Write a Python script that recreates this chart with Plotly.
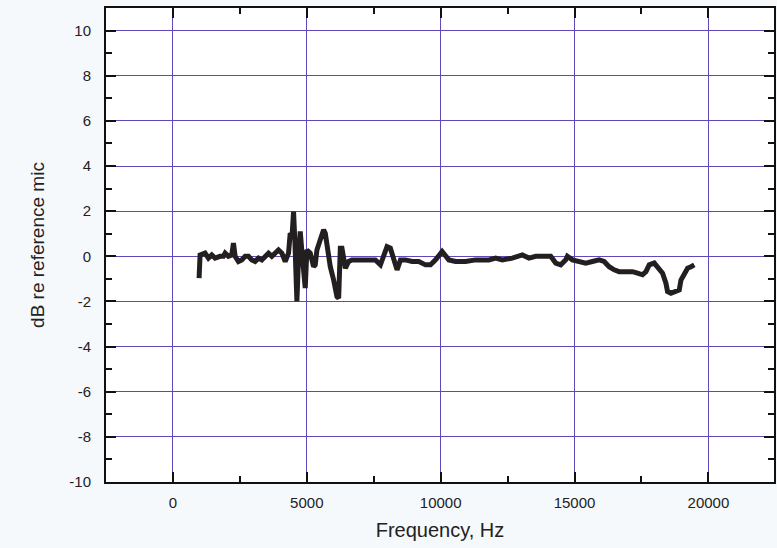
import plotly.graph_objects as go

# Frequency response relative to the reference microphone
freq_hz = [977, 1014, 1200, 1325, 1450, 1575, 1762, 1886, 1950, 2073, 2197, 2260, 2323,
           2447, 2572, 2697, 2821, 2946, 3071, 3196, 3320, 3445, 3570, 3694, 3819, 3943,
           4068, 4193, 4318, 4380, 4450, 4505, 4560, 4630, 4692, 4755, 4810, 4880, 4942,
           5003, 5128, 5190, 5253, 5315, 5378, 5503, 5565, 5628, 5690, 5752, 5877, 6002,
           6127, 6190, 6252, 6313, 6440, 6563, 6687, 6900, 7100, 7311, 7560, 7750, 7873,
           7996, 8120, 8248, 8371, 8498, 8685, 8932, 9183, 9434, 9621, 9808, 10055, 10306,
           10556, 10930, 11305, 11802, 12053, 12300, 12675, 13049, 13299, 13550, 13924,
           14111, 14298, 14485, 14672, 14733, 14920, 15170, 15420, 15668, 15918, 16105,
           16292, 16480, 16667, 16917, 17165, 17352, 17539, 17666, 17790, 17977, 18164,
           18288, 18413, 18474, 18600, 18787, 18911, 18975, 19098, 19223, 19350, 19473]
level_db = [-0.97, 0.06, 0.14, -0.08, 0.06, -0.08, 0.0, 0.0, 0.14, 0.0, 0.06, 0.58, 0.0,
            -0.23, -0.16, 0.0, 0.0, -0.16, -0.23, -0.08, -0.16, 0.0, 0.14, 0.0, 0.14, 0.28,
            0.14, -0.23, 0.14, 1.02, 0.9, 1.98, 0.5, -2.0, 0.0, 1.1, 0.3, -0.9, -1.41,
            0.28, 0.14, -0.16, -0.46, -0.38, 0.28, 0.73, 1.02, 1.17, 1.02, 0.43, -0.46, -1.05,
            -1.79, -1.86, 0.36, 0.36, -0.53, -0.23, -0.16, -0.16, -0.16, -0.16, -0.16, -0.38, 0.0,
            0.43, 0.36, -0.08, -0.6, -0.16, -0.16, -0.23, -0.23, -0.38, -0.38, -0.16, 0.21, -0.16,
            -0.23, -0.23, -0.16, -0.16, -0.08, -0.16, -0.08, 0.06, -0.08, 0.0, 0.0,
            0.0, -0.3, -0.38, -0.16, 0.0, -0.16, -0.23, -0.3, -0.23, -0.16, -0.23,
            -0.46, -0.6, -0.68, -0.68, -0.68, -0.75, -0.82, -0.68, -0.38, -0.3, -0.53,
            -0.75, -1.19, -1.56, -1.64, -1.56, -1.49, -1.05, -0.75, -0.53, -0.46, -0.38]

x_ticks = [0, 5000, 10000, 15000, 20000]
y_ticks = [10, 8, 6, 4, 2, 0, -2, -4, -6, -8, -10]

grid_color = "#6048b8"
font_family = "Liberation Sans, Arial, sans-serif"

fig = go.Figure(go.Scatter(
    x=freq_hz, y=level_db, mode="lines",
    line=dict(color="#231f20", width=5, shape="linear"),
    hoverinfo="x+y",
))

fig.update_layout(
    width=777, height=548,
    margin=dict(l=106, r=1, t=8, b=66),
    paper_bgcolor="#f6f9fb",
    plot_bgcolor="#ffffff",
    showlegend=False,
    font=dict(family=font_family, color="#222222"),
)

fig.update_xaxes(
    range=[-2500, 22450],
    tickvals=x_ticks, ticktext=[str(v) for v in x_ticks],
    showgrid=True, gridcolor=grid_color, gridwidth=1,
    zeroline=False,
    showline=True, linecolor="#111111", linewidth=2, mirror="ticks",
    ticks="inside", ticklen=10, tickwidth=2, tickcolor="#111111",
    minor=dict(dtick=2500, tick0=0, ticks="inside", ticklen=6, tickwidth=2,
               tickcolor="#111111", showgrid=False),
    tickfont=dict(size=15, color="#222222"),
    ticklabelstandoff=6,
    title=dict(text="Frequency, Hz", font=dict(size=20, color="#222222"), standoff=13),
)

fig.update_yaxes(
    range=[-10, 11],
    tickvals=y_ticks, ticktext=[str(v) for v in y_ticks],
    showgrid=True, gridcolor=grid_color, gridwidth=1,
    zeroline=False,
    showline=True, linecolor="#111111", linewidth=2, mirror="ticks",
    ticks="inside", ticklen=10, tickwidth=2, tickcolor="#111111",
    minor=dict(dtick=1, tick0=0, ticks="inside", ticklen=6, tickwidth=2,
               tickcolor="#111111", showgrid=False),
    tickfont=dict(size=15, color="#222222"),
    ticklabelstandoff=10,
    title=dict(text="dB re reference mic", font=dict(size=19, color="#222222"), standoff=20),
)

fig.write_html("out.html")
